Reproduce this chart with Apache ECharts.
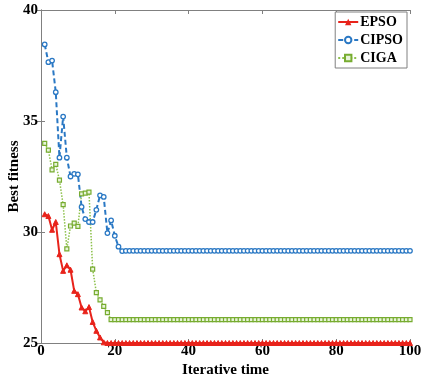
<!DOCTYPE html>
<html><head><meta charset="utf-8">
<script src="https://cdn.jsdelivr.net/npm/echarts@6/dist/echarts.min.js"></script>
<style>html,body{margin:0;padding:0;background:#fff}#c{width:421px;height:378px}</style>
</head><body><div id="c"></div>
<script>
const seriesNames = ['EPSO', 'CIPSO', 'CIGA'];
const xTicks = [0, 20, 40, 60, 80, 100];
const yTicks = [25, 30, 35, 40];
const epsoHead = [30.8, 30.72, 30.1, 30.45, 29.0, 28.25, 28.5, 28.3, 27.35, 27.2, 26.6, 26.43, 26.62, 25.95, 25.55, 25.25, 25.03];
const epsoTail = 25.0;
const cipsoHead = [38.45, 37.65, 37.72, 36.3, 33.35, 35.2, 33.35, 32.5, 32.62, 32.6, 31.13, 30.58, 30.45, 30.45, 31.0, 31.65, 31.58, 29.95, 30.52, 29.83, 29.34, 29.14];
const cipsoTail = 29.15;
const cigaHead = [33.99, 33.69, 32.8, 33.05, 32.34, 31.23, 29.24, 30.27, 30.4, 30.25, 31.72, 31.75, 31.8, 28.33, 27.27, 26.94, 26.65, 26.37, 26.05];
const cigaTail = 26.05;
const iterations = 100;

function build(head, tail) {
  const out = [];
  for (let i = 1; i <= iterations; i++) {
    out.push([i, i <= head.length ? head[i - 1] : tail]);
  }
  return out;
}
const epso = build(epsoHead, epsoTail);
const cipso = build(cipsoHead, cipsoTail);
const ciga = build(cigaHead, cigaTail);

const font = '"Liberation Serif", "Times New Roman", serif';
const axisColor = '#808080';
const chart = echarts.init(document.getElementById('c'));
chart.setOption({
  animation: false,
  grid: { left: 41, top: 10, right: 11, bottom: 35, containLabel: false, outerBoundsMode: 'none' },
  legend: {
    right: 14, top: 12, orient: 'vertical', itemWidth: 20, itemHeight: 8, itemGap: 4,
    backgroundColor: '#fff', borderColor: '#808080', borderWidth: 1, borderRadius: 0,
    padding: [3, 4, 3, 2],
    textStyle: { fontFamily: font, fontWeight: 'bold', fontSize: 14, color: '#000', padding: [0, 0, 0, -3] },
    data: seriesNames
  },
  xAxis: [{
    type: 'value', min: xTicks[0], max: xTicks[xTicks.length - 1], interval: 20,
    name: 'Iterative time', nameLocation: 'middle', nameGap: 20, nameMoveOverlap: false,
    nameTextStyle: { fontFamily: font, fontWeight: 'bold', fontSize: 15, color: '#000' },
    axisLine: { lineStyle: { color: axisColor } },
    axisTick: { inside: true, length: 4, lineStyle: { color: axisColor } },
    axisLabel: { fontFamily: font, fontWeight: 'bold', fontSize: 15, color: '#000', margin: 1 },
    splitLine: { show: false }
  }, {
    type: 'value', position: 'top', min: 0, max: 100, interval: 20,
    axisLine: { show: true, lineStyle: { color: axisColor } },
    axisTick: { show: true, inside: true, length: 4, lineStyle: { color: axisColor } },
    axisLabel: { show: false }, splitLine: { show: false }
  }],
  yAxis: [{
    type: 'value', min: yTicks[0], max: yTicks[yTicks.length - 1], interval: 5,
    name: 'Best fitness', nameLocation: 'middle', nameGap: 19, nameMoveOverlap: false,
    nameTextStyle: { fontFamily: font, fontWeight: 'bold', fontSize: 15, color: '#000' },
    axisLine: { show: true, lineStyle: { color: axisColor } },
    axisTick: { show: true, inside: true, length: 4, lineStyle: { color: axisColor } },
    axisLabel: { fontFamily: font, fontWeight: 'bold', fontSize: 15, color: '#000', margin: 3 },
    splitLine: { show: false }
  }, {
    type: 'value', position: 'right', min: 25, max: 40, interval: 5,
    axisLine: { show: true, lineStyle: { color: axisColor } },
    axisTick: { show: true, inside: true, length: 4, lineStyle: { color: axisColor } },
    axisLabel: { show: false }, splitLine: { show: false }
  }],
  series: [{
    name: 'CIGA', type: 'line', data: ciga, clip: false,
    symbol: 'rect', symbolSize: 4, showAllSymbol: true,
    lineStyle: { color: '#8cc04a', width: 1.5, type: 'dotted' },
    itemStyle: { color: '#e8f4da', borderColor: '#77ac30', borderWidth: 1.2 }
  }, {
    name: 'CIPSO', type: 'line', data: cipso, clip: false,
    symbol: 'circle', symbolSize: 4.5, showAllSymbol: true,
    lineStyle: { color: '#2a78c4', width: 2, type: [5, 3] },
    itemStyle: { color: '#fff', borderColor: '#2a78c4', borderWidth: 1.3 }
  }, {
    name: 'EPSO', type: 'line', data: epso, clip: false,
    symbol: 'triangle', symbolSize: 5, showAllSymbol: true,
    lineStyle: { color: '#e8231b', width: 2 },
    itemStyle: { color: '#e8231b', borderColor: '#e8231b' }
  }]
});
</script></body></html>
